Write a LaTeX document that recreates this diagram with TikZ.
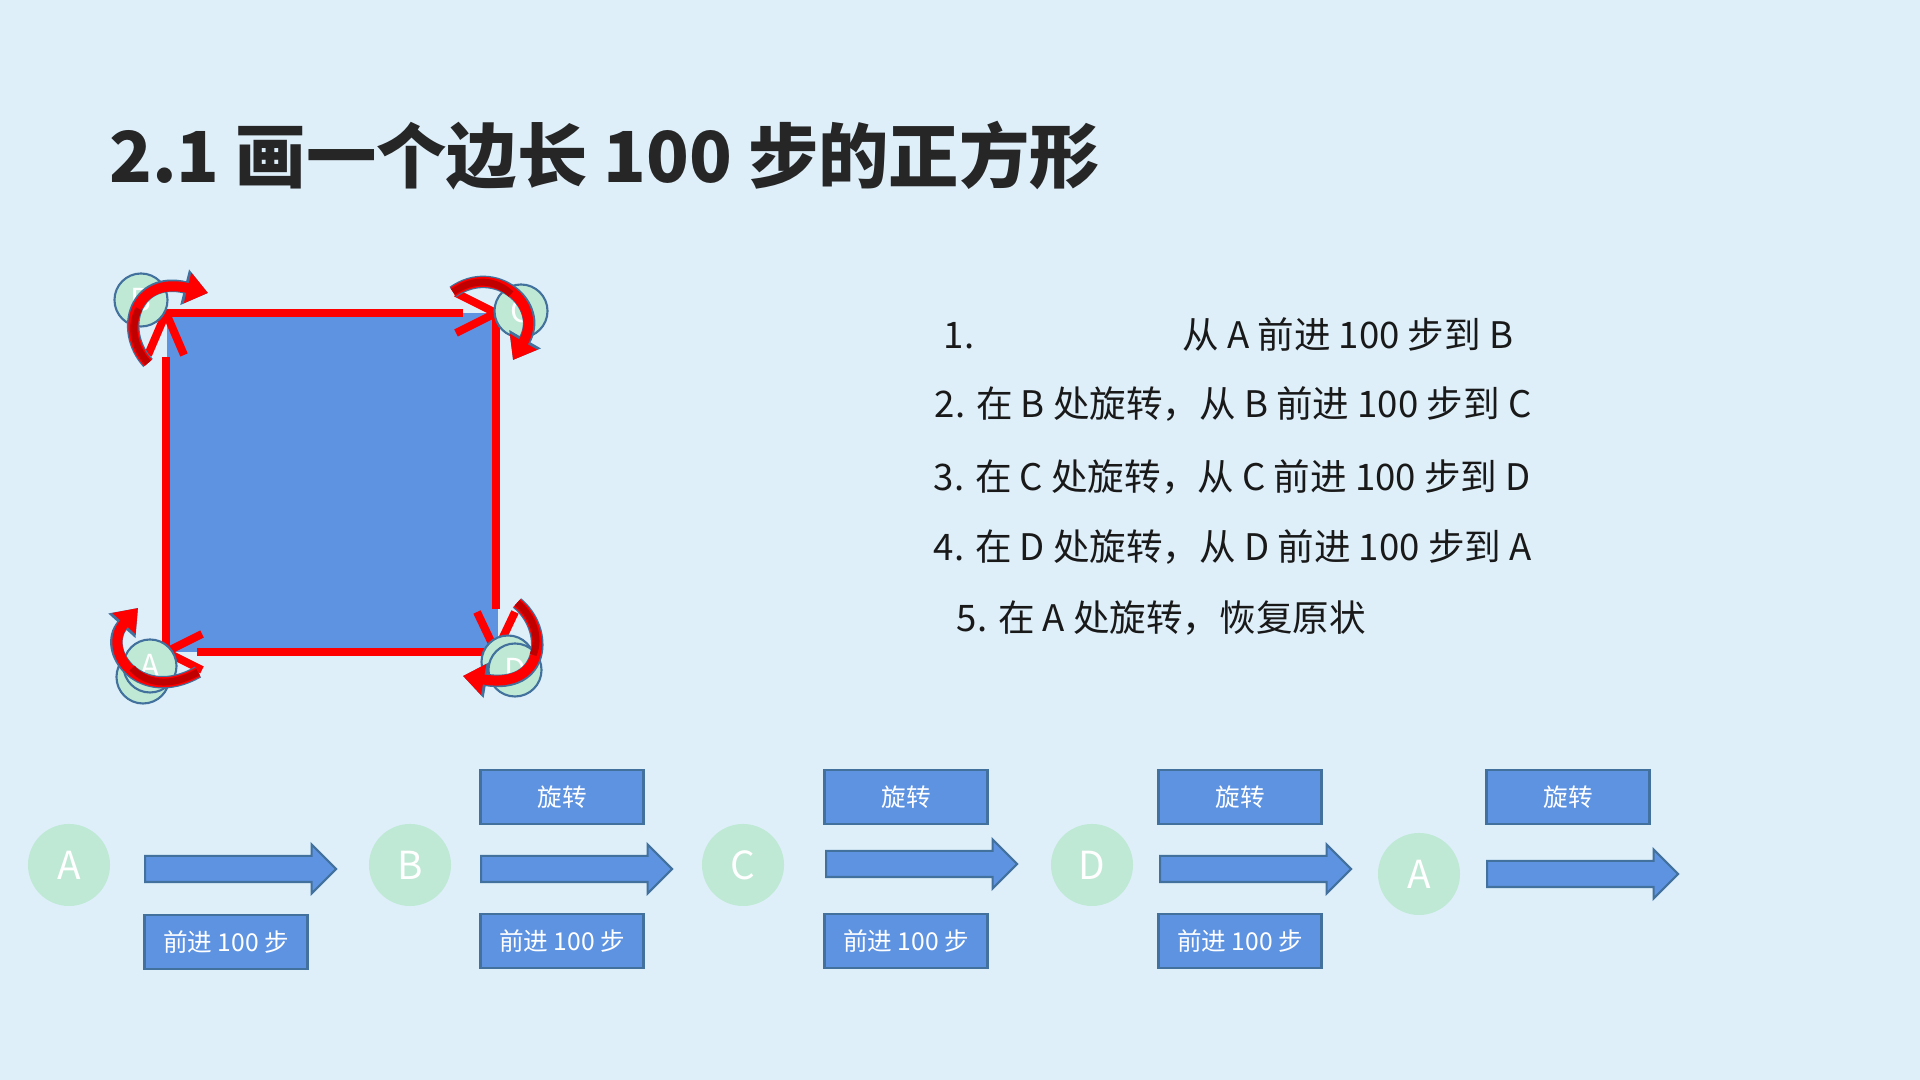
\documentclass[tikz,border=0pt]{standalone}
\usepackage{fontspec}
\setmainfont{Noto Sans CJK SC}
\usetikzlibrary{arrows.meta,shapes.arrows,positioning}
\definecolor{bgblue}{RGB}{222,239,250}
\definecolor{sqblue}{RGB}{94,147,226}
\definecolor{edgeblue}{RGB}{65,113,156}
\definecolor{mint}{RGB}{191,233,213}
\definecolor{titlegray}{RGB}{38,38,38}
\definecolor{deepred}{RGB}{192,0,0}

\begin{document}
\begin{tikzpicture}[x=0.01cm,y=-0.01cm,
  side/.style={red,line width=0.08cm},
  turn/.style={red,line width=0.1cm,-{Triangle[length=0.21cm,width=0.3cm]},
    preaction={draw=edgeblue,line width=0.125cm,-{Triangle[length=0.24cm,width=0.35cm]}}},
  back/.style={deepred,line width=0.07cm},
  dot/.style={circle,fill=mint,draw=edgeblue,line width=0.6pt,minimum size=0.53cm,
    inner sep=0,text=white,font=\fontsize{9}{10}\selectfont},
  spot/.style={circle,fill=mint,minimum size=0.82cm,inner sep=0,text=white,
    font=\fontsize{11}{13}\selectfont},
  stepbox/.style={rectangle,fill=sqblue,draw=edgeblue,line width=0.7pt,minimum width=1.63cm,
    minimum height=0.54cm,inner sep=0,text=white,font=\fontsize{7}{8}\selectfont},
  blockarrow/.style={single arrow,anchor=west,fill=sqblue,draw=edgeblue,line width=0.6pt,
    minimum height=1.91cm,inner xsep=0,inner ysep=0.12cm,single arrow head extend=0.115cm},
  line/.style={anchor=west,inner sep=0,text=black!90,font=\fontsize{10.4}{12}\selectfont}]
\useasboundingbox (0,0) rectangle (1920,1080);
\fill[bgblue] (0,0) rectangle (1920,1080);

\node[anchor=west,text=titlegray,font=\fontsize{20}{24}\selectfont\bfseries] (title) at (97,156)
  {2.1 画一个边长 100 步的正方形};

%square
\fill[sqblue] (167,313) rectangle (498,652);
\coordinate (pA) at (166,652);
\coordinate (pB) at (166,313);
\coordinate (pC) at (496,313);
\coordinate (pD) at (496,652);
\draw[side,shorten >=0.44cm] (pA) -- (pB);
\draw[side,shorten >=0.33cm] (pB) -- (pC);
\draw[side,shorten >=0.43cm] (pC) -- (pD);
\draw[side,shorten >=0.31cm] (pD) -- (pA);
\draw[side,line join=round] ([shift={(-18,42)}]pB) -- (pB) -- ([shift={(18,42)}]pB);
\draw[side,line join=round] ([shift={(-40,-20)}]pC) -- (pC) -- ([shift={(-40,20)}]pC);
\draw[side,line join=round] ([shift={(-19,-40)}]pD) -- (pD) -- ([shift={(19,-40)}]pD);
\draw[side,line join=round] ([shift={(36,-18)}]pA) -- (pA) -- ([shift={(36,18)}]pA);

%corner points
\node[dot] (cB) at (141,300) {B};
\node[dot] (cC) at (521,311) {C};
\node[dot] (cA1) at (143,677) {};
\node[dot] (cA) at (150,666) {A};
\node[dot] (cD1) at (508,662) {};
\node[dot] (cD) at (515,670) {D};

\draw[turn] (148,363) .. controls (118,330) and (135,275) .. (208,293);
\draw[back] (148,363) .. controls (133,346.5) and (129.75,324.5) .. (139,308.9);
\draw[turn] (453,292) .. controls (495,262) and (545,305) .. (513,360);
\draw[back] (453,292) .. controls (474,277) and (497,280.25) .. (511,294.1);
\draw[turn] (517,603) .. controls (550,630) and (545,690) .. (463,676);
\draw[back] (517,603) .. controls (533.5,616.5) and (540.5,638.25) .. (533.1,654.9);
\draw[turn] (198,672) .. controls (140,705) and (100,650) .. (138,608);
\draw[back] (198,672) .. controls (169,688.5) and (144.5,683) .. (132,668.1);

%steps
\node[line] (s1) at (943,334) {1.\hspace{2.08cm}从 A 前进 100 步到 B};
\node[line] (s2) at (934,404) {2. 在 B 处旋转，从 B 前进 100 步到 C};
\node[line] (s3) at (933,477) {3. 在 C 处旋转，从 C 前进 100 步到 D};
\node[line] (s4) at (933,547) {4. 在 D 处旋转，从 D 前进 100 步到 A};
\node[line] (s5) at (956,618) {5. 在 A 处旋转，恢复原状};

%bottom row
\node[spot] (A) at (69,865) {A};
\node[spot] (B) at (410,865) {B};
\node[spot] (C) at (743,865) {C};
\node[spot] (D) at (1092,865) {D};
\node[spot] (A2) at (1419,874) {A};

\node[blockarrow] (a1) at (144,869) {};
\node[blockarrow] (a2) at (480,869) {};
\node[blockarrow] (a3) at (825,864) {};
\node[blockarrow] (a4) at (1159,869) {};
\node[blockarrow] (a5) at (1486,874) {};

\node[stepbox] (f1) at (226,942) {前进 100 步};
\node[stepbox] (f2) at (562,941) {前进 100 步};
\node[stepbox] (f3) at (906,941) {前进 100 步};
\node[stepbox] (f4) at (1240,941) {前进 100 步};

\node[stepbox] (t2) at (562,797) {旋转};
\node[stepbox] (t3) at (906,797) {旋转};
\node[stepbox] (t4) at (1240,797) {旋转};
\node[stepbox] (t5) at (1568,797) {旋转};
\end{tikzpicture}
\end{document}
